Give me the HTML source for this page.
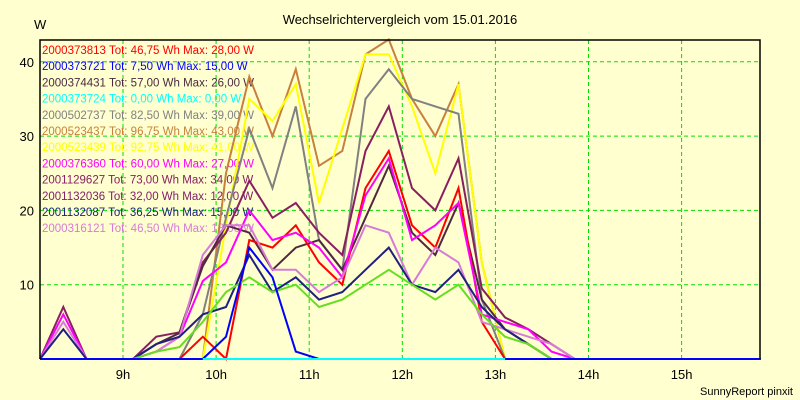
<!DOCTYPE html>
<html><head><meta charset="utf-8">
<style>
html,body{margin:0;padding:0;background:#ffffd0;}
svg{display:block;font-family:"Liberation Sans",Arial,sans-serif;}
</style></head>
<body>
<svg id="chart" width="800" height="400" viewBox="0 0 800 400" xmlns="http://www.w3.org/2000/svg">
<rect x="0" y="0" width="800" height="400" fill="#ffffd0"/>
<text x="400" y="24" text-anchor="middle" font-size="13" fill="#000">Wechselrichtervergleich vom 15.01.2016</text>
<text x="34" y="29" font-size="13" fill="#000">W</text>
<text x="700" y="395" font-size="11" fill="#000">SunnyReport pinxit</text>
<g id="grid"></g>
<g id="legend"></g>
<g id="series"></g>
<g id="frame"></g>
</svg>
<script>
const yTicks = [10, 20, 30, 40];
const hourTicks = [9, 10, 11, 12, 13, 14, 15];
const seriesNames = ["2000373813","2000373721","2000374431","2000373724","2000502737","2000523437","2000523439","2000376360","2001129627","2001132036","2001132087","2000316121"];
const seriesLabels = ["Tot: 46,75 Wh Max: 28,00 W","Tot: 7,50 Wh Max: 15,00 W","Tot: 57,00 Wh Max: 26,00 W","Tot: 0,00 Wh Max: 0,00 W","Tot: 82,50 Wh Max: 39,00 W","Tot: 96,75 Wh Max: 43,00 W","Tot: 92,75 Wh Max: 41,00 W","Tot: 60,00 Wh Max: 27,00 W","Tot: 73,00 Wh Max: 34,00 W","Tot: 32,00 Wh Max: 12,00 W","Tot: 36,25 Wh Max: 15,00 W","Tot: 46,50 Wh Max: 18,00 W"];
const legendColors = ["#ff0000","#0000ff","#4a2a40","#00ffff","#808080","#c8803c","#ffff00","#ff00ff","#882060","#80206a","#202080","#d77bd7"];
const lineColors = ["#ff0000","#0000ff","#502840","#00ffff","#808080","#c8803c","#ffff00","#ff00ff","#882060","#66dd22","#202080","#d77bd7"];
const Z = 0, N = null;
const sRed     = [0,0,0,0,0,0,0,3,0,16,15,18,13,10,23,28,18,15,23,5,0,0,0,0,0,0,0,0,0,0,0,0];
const sBlue    = [0,0,0,0,0,0,0,0,3,15,11,1,0,0,0,0,0,0,0,0,0,0,0,0,0,0,0,0,0,0,0,0];
const sDkBrown = [0,0,0,0,0,2,3.5,12.5,18,17,12,15,16,12,19,26,17,14,21,8,4,2,0,0,0,0,0,0,0,0,0,0];
const sCyan    = [N,N,N,N,N,N,N,0,0,0,0,0,0,0,0,0,0,0,0,0,0,N,N,N,N,N,N,N,N,N,N,N];
const sGray    = [0,0,0,0,0,0,0,6,19,31,23,34,16,12,35,39,35,34,33,8,0,0,0,0,0,0,0,0,0,0,0,0];
const sOrange  = [0,0,0,0,0,0,0,0,25,38,30,39,26,28,41,43,35,30,37,13,0,0,0,0,0,0,0,0,0,0,0,0];
const sYellow  = [0,0,0,0,0,0,0,0,18,35,32,37,21,31,41,41,34,25,37,13,0,0,0,0,0,0,0,0,0,0,0,0];
const sMagenta = [0,6,0,0,0,1,3,10.5,13,20,16,17,15,11,22,27,16,18,21,6,5,4,1,0,0,0,0,0,0,0,0,0];
const sMaroon  = [0,7,0,0,0,3,3.6,13,17,24,19,21,17,14,28,34,23,20,27,9.5,5.6,4,2,0,0,0,0,0,0,0,0,0];
const sGreen   = [0,0,0,0,0,1,1.6,5,9,11,9,10,7,8,10,12,10,8,10,6,3,2,0,0,0,0,0,0,0,0,0,0];
const sNavy    = [0,4,0,0,0,2,3,6,7,14,9,11,8,9,12,15,10,9,12,7,4,2,0,0,0,0,0,0,0,0,0,0];
const sOrchid  = [0,5,0,0,0,1,3,14,18,18,12,12,9,11,18,17,10,15,13,5,4,3,2,0,0,0,0,0,0,0,0,0];
const seriesData = [sRed,sBlue,sDkBrown,sCyan,sGray,sOrange,sYellow,sMagenta,sMaroon,sGreen,sNavy,sOrchid];
const drawOrder = [5,6,4,8,2,0,7,11,10,9,1,3];

const NS = "http://www.w3.org/2000/svg";
const L = 40, R = 760, T = 40, B = 359;
function xIdx(i){ return L + i * 23.25; }
function xHour(h){ return 123 + (h - 9) * 93.1; }
function yVal(v){ return B - v * 7.43; }
function mk(tag, attrs, parent){ const e = document.createElementNS(NS, tag); for (const k in attrs) e.setAttribute(k, attrs[k]); parent.appendChild(e); return e; }

const grid = document.getElementById('grid');
yTicks.forEach(v => {
  const ln = mk('line', {x1:L, x2:R, y1:yVal(v), y2:yVal(v), stroke:'#00e000', 'stroke-dasharray':'4,3'}, grid);
  
  
  const t = mk('text', {x:34, y:yVal(v)+5, 'text-anchor':'end', 'font-size':'13', fill:'#000'}, grid);
  t.textContent = v;
  
  
});
hourTicks.forEach(h => {
  const ln = mk('line', {x1:xHour(h), x2:xHour(h), y1:T, y2:B, stroke:'#00e000', 'stroke-dasharray':'4,3'}, grid);
  
  
  const t = mk('text', {x:xHour(h), y:379, 'text-anchor':'middle', 'font-size':'13', fill:'#000'}, grid);
  t.textContent = h + 'h';
  
  
});

const legend = document.getElementById('legend');
seriesNames.forEach((n, k) => {
  const t = mk('text', {x:42, y:54 + k*16.2, 'font-size':'11.5', fill:legendColors[k]}, legend);
  t.textContent = n + ' ' + seriesLabels[k];
  
  
});

const sg = document.getElementById('series');
drawOrder.forEach(k => {
  const d = seriesData[k];
  let path = '', pen = false;
  d.forEach((v, i) => {
    if (v === null) { pen = false; return; }
    path += (pen ? 'L' : 'M') + xIdx(i).toFixed(1) + ',' + yVal(v).toFixed(1);
    pen = true;
  });
  const p = mk('path', {d:path, fill:'none', stroke:lineColors[k], 'stroke-width':'2', 'stroke-linejoin':'miter'}, sg);
  
  
});

const fr = document.getElementById('frame');
const f = mk('path', {d:'M40,359 L40,40 L760,40 L760,359', fill:'none', stroke:'#000', 'stroke-width':'1.5'}, fr);


</script>
</body></html>
